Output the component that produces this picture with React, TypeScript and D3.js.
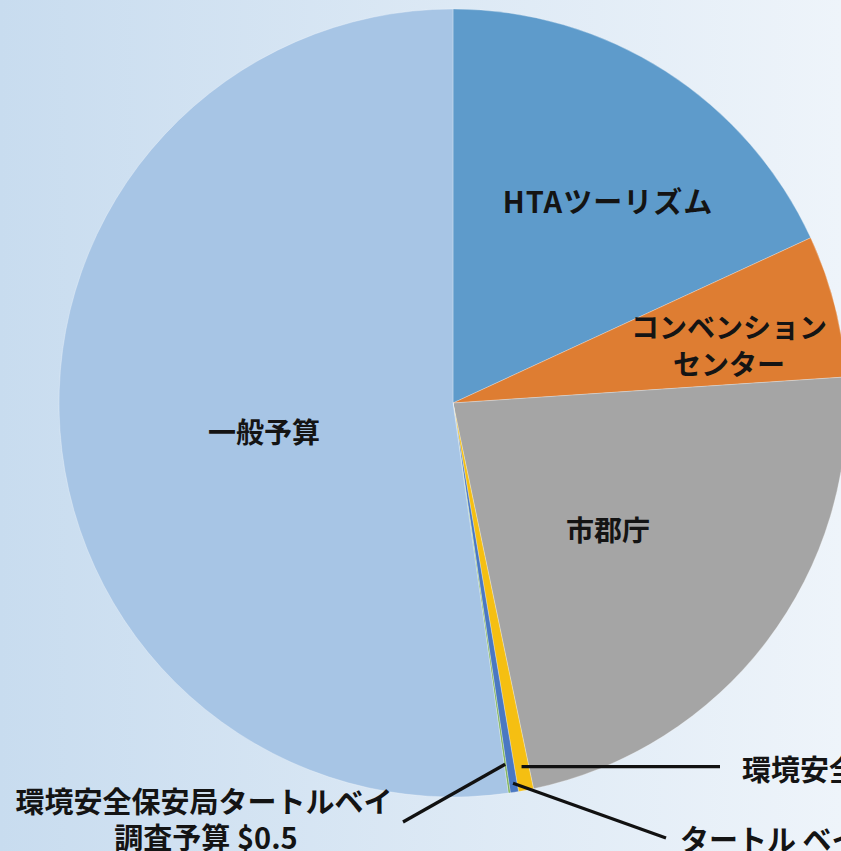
import React from "react";
import * as d3 from "d3";

const categories = [
  "HTAツーリズム",
  "コンベンションセンター",
  "市郡庁",
  "環境安全保安局",
  "タートル ベイ",
  "環境安全保安局タートルベイ調査予算",
  "一般予算",
];
const values = [108.7, 35.0, 136.7, 3.7, 2.0, 0.5, 313.5];
const colors = ["#5E9BCB", "#DE7D32", "#A5A5A5", "#F5BF12", "#4A78C2", "#7FB35A", "#A7C5E5"];

const W = 841;
const H = 851;
const CX = 453;
const CY = 403;
const R = 394;
const FONT = "'Noto Sans CJK JP', 'Noto Sans', sans-serif";

export default function App() {
  const data = categories.map((c, i) => ({ name: c, value: values[i], color: colors[i] }));
  const pie = d3.pie<any>().value((d) => d.value).sort(null).startAngle(0).endAngle(2 * Math.PI);
  const arcs = pie(data);
  const arc = d3.arc<any>().innerRadius(0).outerRadius(R);
  const polar = (a: number, r: number): [number, number] => [CX + r * Math.sin(a), CY - r * Math.cos(a)];
  const mid = (i: number) => (arcs[i].startAngle + arcs[i].endAngle) / 2;

  const p3 = polar(mid(3), 370);
  const p4 = polar(mid(4), 385);
  const p5 = polar(mid(5), 365);

  const textStyle = { fontFamily: FONT, fontWeight: 700, fontSize: 28, fill: "#141414" } as any;
  const bigStyle = { ...textStyle, fontSize: 29 };

  return (
    <svg width={W} height={H} style={{ position: "absolute", left: 0, top: 0 }}>
      <defs>
        <linearGradient id="bg" x1="0" y1="0" x2="1" y2="0">
          <stop offset="0%" stopColor="#C8DCEF" />
          <stop offset="100%" stopColor="#EEF4FA" />
        </linearGradient>
      </defs>
      <rect x={0} y={0} width={W} height={H} fill="url(#bg)" />
      <g transform={`translate(${CX},${CY})`}>
        {arcs.map((a, i) => (
          <path key={i} d={arc(a) as string} fill={a.data.color} stroke="#ffffff" strokeOpacity={0.35} strokeWidth={0.8} />
        ))}
      </g>
      <g style={textStyle} textAnchor="middle" dominantBaseline="central">
        <text x={608} y={200} style={{ ...textStyle, fontSize: 29 }} letterSpacing={1}>HTAツーリズム</text>
        <text x={729} y={326}>コンベンション</text>
        <text x={729} y={363}>センター</text>
        <text x={608} y={529}>市郡庁</text>
        <text x={264} y={431}>一般予算</text>
      </g>
      <g style={bigStyle} textAnchor="middle" dominantBaseline="central">
        <text x={204} y={800}>環境安全保安局タートルベイ</text>
        <text x={206} y={836}>調査予算 $0.5</text>
      </g>
      <g style={bigStyle} dominantBaseline="central">
        <text x={742} y={768}>環境安全保安局 $3.7</text>
        <text x={680} y={838}>タートル ベイ $2.0</text>
      </g>
      <g stroke="#111" strokeWidth={3.2} fill="none">
        <line x1={p3[0]} y1={p3[1]} x2={720} y2={p3[1]} />
        <line x1={p4[0]} y1={p4[1]} x2={666} y2={838} />
        <line x1={p5[0]} y1={p5[1]} x2={403} y2={822} />
      </g>
    </svg>
  );
}
